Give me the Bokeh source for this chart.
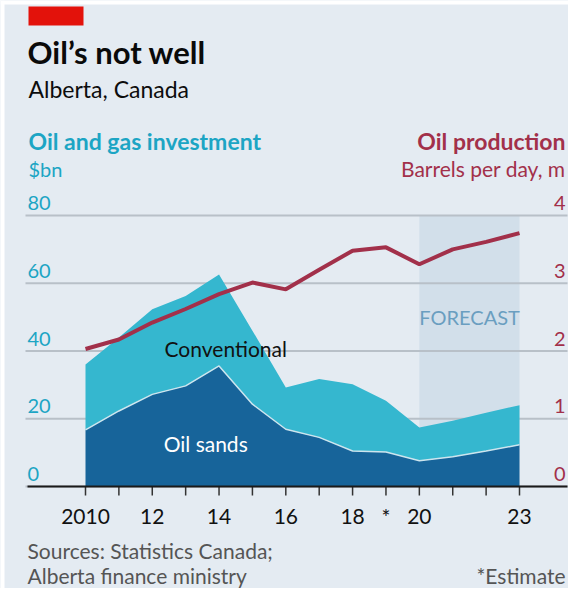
from bokeh.plotting import figure
from bokeh.models import ColumnDataSource, Range1d, BoxAnnotation, Label
from bokeh.core.properties import value
from bokeh.embed import file_html
from bokeh.resources import INLINE

# ---------------- data ----------------
years = [2010, 2011, 2012, 2013, 2014, 2015, 2016, 2017, 2018, 2019, 2020, 2021, 2022, 2023]
oil_sands = [16.7, 22.3, 27.2, 29.7, 35.6, 24.3, 16.9, 14.5, 10.5, 10.2, 7.6, 8.8, 10.5, 12.3]
conventional = [19.3, 21.7, 25.1, 26.5, 27.0, 21.7, 12.3, 17.2, 19.7, 15.1, 9.8, 10.6, 11.3, 11.7]
production = [2.03, 2.17, 2.42, 2.62, 2.84, 3.01, 2.91, 3.20, 3.48, 3.53, 3.28, 3.50, 3.61, 3.74]

invest_ticks = [0, 20, 40, 60, 80]
prod_ticks = [0, 1, 2, 3, 4]
year_tick_labels = ["2010", "", "12", "", "14", "", "16", "", "18", "*", "20", "", "", "23"]
forecast_start, forecast_end = 2020, 2023

# ---------------- style / geometry ----------------
BG = "#e4ebf2"
TEAL = "#1ca5c4"
LIGHT = "#35b7cf"
DARK = "#17649a"
RED = "#a2304a"
GRID = "#b8c0c8"
FONT = "Lato"

W, H = 568, 588
X0_PX, PX_PER_YEAR = 85.0, 434.0 / 13      # 2010 at canvas x=85
Y0_PX, PX_PER_UNIT = 102.0, 271.0 / 80     # value 0 at 102 px above canvas bottom

x_start = years[0] - X0_PX / PX_PER_YEAR
x_end = x_start + W / PX_PER_YEAR
y_start = -Y0_PX / PX_PER_UNIT
y_end = y_start + H / PX_PER_UNIT
ratio = invest_ticks[-1] / prod_ticks[-1]

def xdata(canvas_px):
    return x_start + canvas_px / PX_PER_YEAR

source = ColumnDataSource(dict(year=years, oil_sands=oil_sands,
                               conventional=conventional, production=production))

p = figure(width=W, height=H, output_backend="svg", toolbar_location=None,
           x_range=Range1d(x_start, x_end), y_range=Range1d(y_start, y_end),
           x_axis_location=None, y_axis_location=None, min_border=0)
p.background_fill_color = BG
p.border_fill_color = BG
p.outline_line_color = None
p.grid.visible = False
p.extra_y_ranges = {"prod": Range1d(y_start / ratio, y_end / ratio)}

def sbox(l, r, b, t, color):
    p.add_layout(BoxAnnotation(left=l, right=r, bottom=b, top=t, left_units="screen",
                               right_units="screen", top_units="screen",
                               bottom_units="screen", fill_color=color, fill_alpha=1,
                               line_color=None))

# white page edge like the reference
sbox(0, 4, 0, H, "white")
sbox(0, W, H - 4, H, "white")

# forecast shading
p.quad(left=[forecast_start], right=[forecast_end], bottom=[invest_ticks[0]],
       top=[invest_ticks[-1]], fill_color="#d2dfea", line_color=None)

# horizontal gridlines
gx0, gx1 = xdata(25), xdata(567)
p.segment(x0=[gx0] * len(invest_ticks), x1=[gx1] * len(invest_ticks),
          y0=invest_ticks, y1=invest_ticks, line_color=GRID, line_width=2)

# stacked areas
p.varea_stack(stackers=["oil_sands", "conventional"], x="year", color=[DARK, LIGHT],
              source=source)
p.line("year", "oil_sands", source=source, line_color="#cde5ee", line_width=1.5)

# x axis: baseline, ticks, labels
tick_len = 9 / PX_PER_UNIT
p.segment(x0=years, x1=years, y0=[0] * len(years), y1=[-tick_len] * len(years),
          line_color="#333333", line_width=1.5)
p.segment(x0=[xdata(27)], x1=[gx1], y0=[0], y1=[0], line_color="#1a1a1a", line_width=2)
p.text(x=years, y=[0] * len(years), text=year_tick_labels, y_offset=30,
       text_align="center", text_baseline="middle", text_font=value(FONT),
       text_font_size="21px", text_color="#111111")

# oil production line on its own scale
p.line("year", "production", source=source, y_range_name="prod",
       line_color=RED, line_width=4)

# in-chart labels
p.add_layout(Label(x=2014.2, y=40.7, text="Conventional", text_align="center",
                   text_baseline="middle", text_font=FONT, text_font_size="21px",
                   text_color="#111111"))
p.add_layout(Label(x=2013.6, y=12.7, text="Oil sands", text_align="center",
                   text_baseline="middle", text_font=FONT, text_font_size="21px",
                   text_color="#ffffff"))
p.add_layout(Label(x=forecast_start, y=50.0, text="FORECAST", text_align="left",
                   text_baseline="middle", text_font=FONT, text_font_size="20px",
                   text_color="#6a9ec0"))

# y tick labels (sit above gridlines)
for t in invest_ticks:
    p.add_layout(Label(x=27, x_units="screen", y=t, y_offset=12.5, text=str(t),
                       text_align="left", text_baseline="middle", text_font=FONT,
                       text_font_size="20px", text_color=TEAL))
for t in prod_ticks:
    p.add_layout(Label(x=565, x_units="screen", y=t, y_range_name="prod", y_offset=12.5,
                       text=str(t), text_align="right", text_baseline="middle",
                       text_font=FONT, text_font_size="20px", text_color=RED))

# header / footer
sbox(28, 83, 563, 582, "#e3120b")

def txt(x, y, s, size, color, bold=False, align="left"):
    p.add_layout(Label(x=x, y=y, x_units="screen", y_units="screen", text=s,
                       text_align=align, text_baseline="middle", text_font=FONT,
                       text_font_size=size, text_color=color,
                       text_font_style="bold" if bold else "normal"))

txt(27, 537, "Oil’s not well", "31px", "#0a0a0a", bold=True)
txt(28, 500, "Alberta, Canada", "23px", "#0d0d0d")
txt(28, 448, "Oil and gas investment", "23px", TEAL, bold=True)
txt(28, 420, "$bn", "20px", TEAL)
txt(565, 448, "Oil production", "23px", RED, bold=True, align="right")
txt(565, 420, "Barrels per day, m", "21px", RED, align="right")
txt(27, 38, "Sources: Statistics Canada;", "21px", "#555555")
txt(27, 13, "Alberta finance ministry", "21px", "#555555")
txt(565, 13, "*Estimate", "21px", "#555555", align="right")

open("out.html", "w").write(file_html(p, INLINE))
